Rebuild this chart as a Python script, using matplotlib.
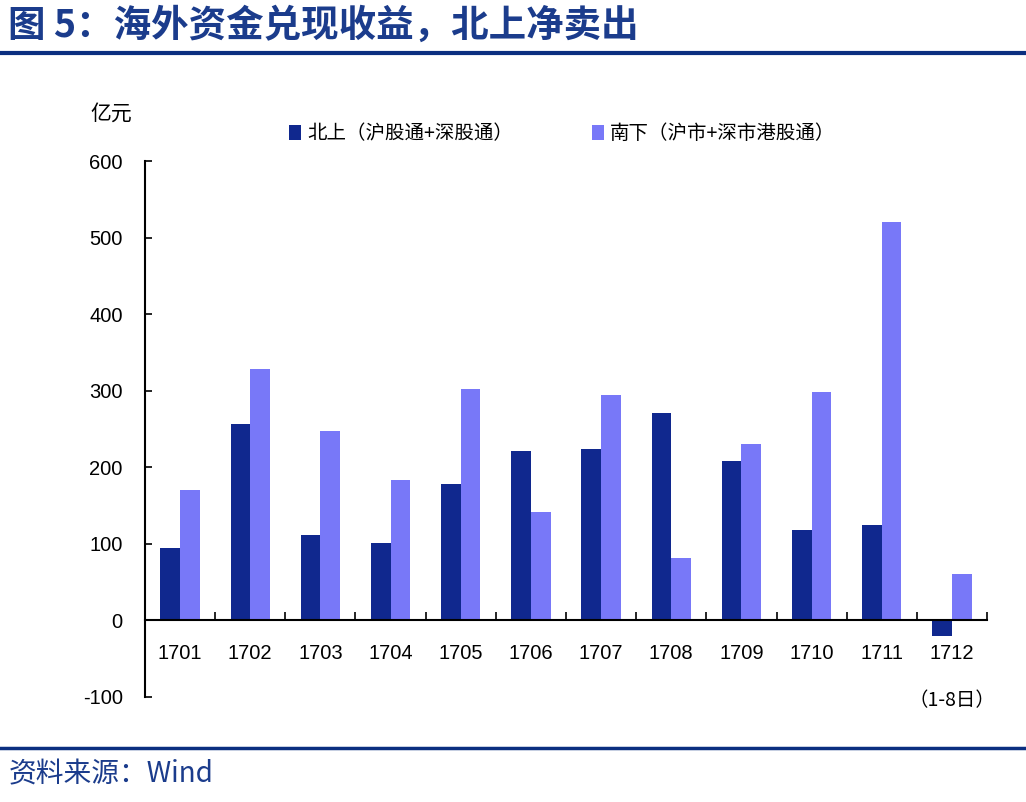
import matplotlib.pyplot as plt
import numpy as np

plt.rcParams['font.family'] = ['Noto Sans CJK SC', 'DejaVu Sans']
plt.rcParams['axes.unicode_minus'] = False

months = ["1701", "1702", "1703", "1704", "1705", "1706",
          "1707", "1708", "1709", "1710", "1711", "1712"]
north = [95, 257, 111, 101, 178, 221, 224, 271, 208, 118, 125, -20]
south = [171, 328, 248, 183, 303, 141, 295, 81, 230, 298, 520, 61]
yticks = [-100, 0, 100, 200, 300, 400, 500, 600]

DARK = "#10288e"
LIGHT = "#7878f8"
NAVY = "#0b2f80"

narrow = ['Liberation Sans Narrow', 'Liberation Sans', 'DejaVu Sans']

fig = plt.figure(figsize=(10.26, 8.02), dpi=100)
ax = fig.add_axes([0.1413, 0.131, 0.8207, 0.668])

x = np.arange(len(months))
w = 0.28
ax.bar(x - w / 2, north, width=w, color=DARK, label="北上（沪股通+深股通）")
ax.bar(x + w / 2, south, width=w, color=LIGHT, label="南下（沪市+深市港股通）")

ax.set_xlim(-0.5, len(months) - 0.5)
ax.set_ylim(-100, 600)
ax.set_yticks(yticks)
ax.set_yticklabels([str(v) for v in yticks], family=narrow, fontsize=14.5)
ax.tick_params(axis='y', direction='in', length=5, width=1.2, pad=16)

for s in ['top', 'right']:
    ax.spines[s].set_visible(False)
ax.spines['bottom'].set_position(('data', 0))
ax.spines['bottom'].set_linewidth(1.5)
ax.spines['left'].set_linewidth(1.5)

# ticks between groups, labels drawn under each group
ax.set_xticks(np.arange(len(months) + 1) - 0.5)
ax.set_xticklabels([])
ax.tick_params(axis='x', direction='in', length=6, width=1.2)
for i, m in enumerate(months):
    ax.text(i, -43, m, ha='center', va='center', family=narrow, fontsize=14.5)
ax.text(11, -105, "（1-8日）", ha='center', va='center', fontsize=14)

fig.text(0.088, 0.858, "亿元", fontsize=15, va='center')

fig.legend(loc='center left', bbox_to_anchor=(0.265, 0.833), ncol=2, frameon=False,
           handlelength=0.6, handleheight=0.8, handletextpad=0.3,
           columnspacing=4.1, fontsize=14)

# header / footer
fig.text(0.008, 0.968, "图 5：海外资金兑现收益，北上净卖出", fontsize=27,
         fontweight='bold', color="#1b3c8c", va='center')
fig.add_artist(plt.Line2D([0, 1], [0.934, 0.934], color=NAVY, lw=3))
fig.add_artist(plt.Line2D([0, 1], [0.067, 0.067], color=NAVY, lw=2.5))
fig.text(0.008, 0.034, "资料来源：Wind", fontsize=20, style='italic',
         color="#1b3c8c", va='center')

fig.savefig("out.png", dpi=100)
